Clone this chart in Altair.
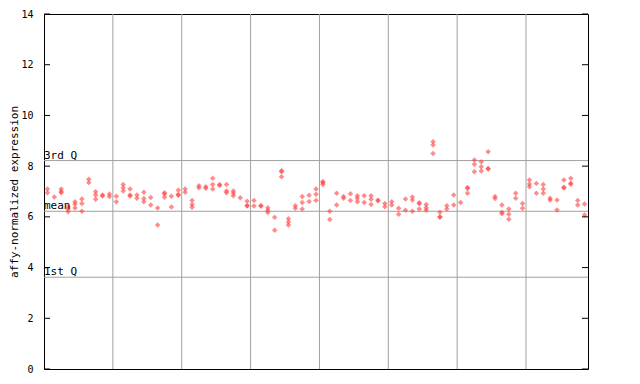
import altair as alt
import pandas as pd

# values per sample column (up to 3 replicates per column)
rep_a = [7.1, 6.78, 7.1, 6.4, 6.6, 6.7, 7.48, 6.99, 6.86, 6.9,
         6.81, 7.28, 7.1, 6.86, 6.97, 6.76, 6.35, 6.95, 6.81, 7.05,
         7.1, 6.65, 7.23, 7.19, 7.52, 7.28, 7.28, 7.02, 6.75, 6.62,
         6.65, 6.45, 6.36, 5.98, 7.82, 5.93, 6.44, 6.8, 6.85, 7.1,
         7.39, 6.22, 6.93, 6.8, 6.91, 6.83, 6.83, 6.83, 6.66, 6.53,
         6.6, 6.34, 6.7, 6.78, 6.56, 6.49, 8.96, 6.18, 6.44, 6.86,
         6.57, 7.16, 8.24, 8.17, 8.57, 6.8, 6.47, 6.31, 6.93, 6.53,
         7.45, 7.32, 7.28, 6.73, 6.66, 7.45, 7.52, 6.65, 6.51]
rep_b = [6.95, None, 7.0, 6.3, 6.5, 6.53, 7.35, 6.86, 6.82, 6.8,
         6.6, 7.15, 6.86, 6.73, 6.72, 6.47, 5.68, 6.9, 6.39, 6.88,
         6.97, 6.49, 7.15, 7.13, 7.28, 7.24, 7.02, 6.93, None, 6.45,
         6.43, 6.42, 6.26, 5.47, 7.78, 5.8, 6.34, 6.57, 6.61, 6.89,
         7.35, 5.9, 6.47, 6.73, 6.65, 6.73, 6.57, 6.69, 6.63, 6.4,
         6.47, 6.1, 6.26, 6.66, 6.52, 6.36, 8.83, 6.0, 6.31, 6.47,
         None, 7.12, 8.07, 7.98, 7.91, 6.72, 6.18, 6.1, 6.73, 6.34,
         7.3, 6.93, 7.1, 6.66, 6.27, 7.17, 7.33, 6.47, 6.07]
rep_c = [None, None, 6.95, 6.2, 6.35, 6.22, None, 6.69, None, None,
         None, 7.02, 6.82, None, 6.6, None, None, 6.77, None, 6.85,
         None, 6.38, None, None, 7.1, None, 6.95, 6.83, None, 6.43,
         None, None, 6.17, None, 7.58, 5.68, None, 6.31, None, 6.65,
         7.28, None, None, None, None, 6.6, None, 6.49, None, None,
         None, None, None, 6.22, 6.31, 6.26, 8.5, 5.98, None, None,
         None, 6.93, 7.78, 7.81, 7.89, None, 6.12, 5.91, None, None,
         7.19, None, 6.93, None, None, 7.14, 7.29, None, None]

ref_names = ["3rd Q", "mean", "1st Q"]
ref_values = [8.22, 6.22, 3.62]
group_breaks = [10, 20, 30, 40, 50, 60, 70]
y_ticks = [0, 2, 4, 6, 8, 10, 12, 14]

rows = []
for i in range(len(rep_a)):
    for v in (rep_a[i], rep_b[i], rep_c[i]):
        if v is not None:
            rows.append({"pos": i + 0.5, "value": v})
df = pd.DataFrame(rows)
ref_df = pd.DataFrame({"name": ref_names, "value": ref_values})
brk_df = pd.DataFrame({"pos": group_breaks})
tick_df = pd.DataFrame({"value": y_ticks})

xs = alt.Scale(domain=[0, 79], nice=False, zero=False)
ys = alt.Scale(domain=[0, 14], nice=False)
FONT = "DejaVu Sans Mono"

hlines = alt.Chart(ref_df).mark_rule(color="#a0a0a0", strokeWidth=1).encode(
    y=alt.Y("value:Q", scale=ys,
            axis=alt.Axis(values=y_ticks, ticks=False, domain=False, grid=False,
                          labelFont=FONT, labelFontSize=10, labelPadding=11,
                          labelColor="black",
                          title="affy-normalized expression", titleFont=FONT,
                          titleFontSize=11, titleFontWeight="normal",
                          titlePadding=1, titleColor="black"))
)
vlines = alt.Chart(brk_df).mark_rule(color="#a0a0a0", strokeWidth=1).encode(
    x=alt.X("pos:Q", scale=xs, axis=None)
)
labels = alt.Chart(ref_df).mark_text(
    align="left", baseline="alphabetic", dy=-2, font=FONT, fontSize=11, color="black"
).encode(x=alt.value(0), y=alt.Y("value:Q", scale=ys), text="name:N")

points = alt.Chart(df).mark_point(
    shape="diamond", filled=True, size=30, color="#ff4040", opacity=0.6
).encode(
    x=alt.X("pos:Q", scale=xs, axis=None),
    y=alt.Y("value:Q", scale=ys),
)

lticks = alt.Chart(tick_df).mark_rule(color="black", strokeWidth=1).encode(
    x=alt.value(0), x2=alt.value(6), y=alt.Y("value:Q", scale=ys)
)
rticks = alt.Chart(tick_df).mark_rule(color="black", strokeWidth=1).encode(
    x=alt.value(538), x2=alt.value(544), y=alt.Y("value:Q", scale=ys)
)

chart = alt.layer(hlines, vlines, points, labels, lticks, rticks).properties(
    width=544, height=355,
    autosize=alt.AutoSizeParams(type="none"),
    padding={"left": 36, "top": 6, "right": 40, "bottom": 10},
).configure_view(stroke="black", strokeWidth=1)

chart.save("out.html", embed_options={"renderer": "svg", "actions": False})
